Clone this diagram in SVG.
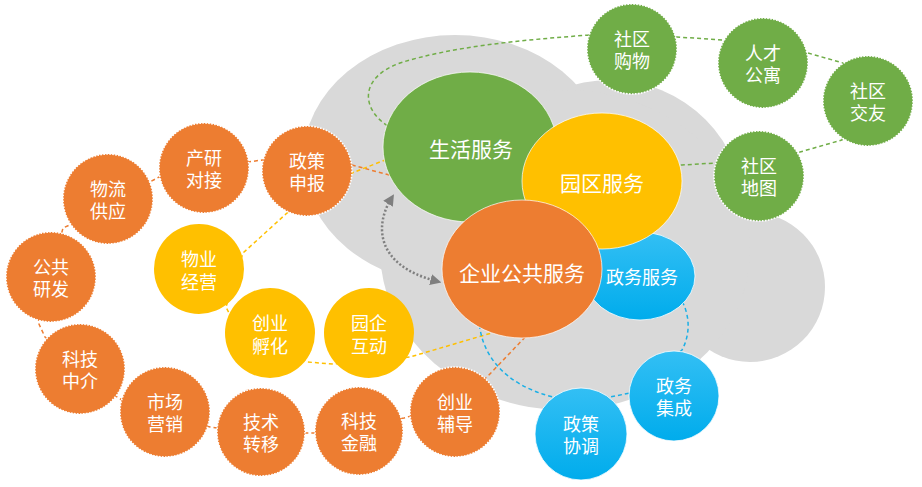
<svg xmlns="http://www.w3.org/2000/svg" width="922" height="487" viewBox="0 0 922 487">
<defs>
<style>
text{font-family:"Noto Sans CJK SC","Microsoft YaHei",sans-serif;fill:#fff;text-anchor:middle;dominant-baseline:central}
.big{font-size:21px}
.mid{font-size:18px}
.sm{font-size:18px}
.dot{stroke:#fff;stroke-width:1.6;stroke-dasharray:1.6 1.4}
.or{fill:#ed7d31}
.gr{fill:#70ad47}
.ye{fill:#ffc000}
.bl{fill:url(#blueg);stroke:#fff;stroke-width:1;stroke-opacity:.8}
.ln{fill:none;stroke-width:1.5;stroke-dasharray:4 3}
.edge{stroke:#fff;stroke-width:1;stroke-opacity:.7}
</style>
<linearGradient id="blueg" x1="0" y1="0" x2="0" y2="1">
<stop offset="0" stop-color="#33bff4"/>
<stop offset="1" stop-color="#00acec"/>
</linearGradient>
<marker id="arr" viewBox="0 0 10 10" refX="5" refY="5" markerWidth="4.5" markerHeight="4.5" orient="auto-start-reverse" markerUnits="strokeWidth">
<path d="M0,0 L10,5 L0,10 z" fill="#7f7f7f"/>
</marker>
</defs>

<g id="cloud" fill="#d9d9d9">
<ellipse cx="455" cy="160" rx="152" ry="125"/>
<circle cx="610" cy="215" r="135"/>
<circle cx="750" cy="287" r="75"/>
<ellipse cx="565" cy="250" rx="185" ry="160"/>
</g>

<g id="connectors">
<polyline class="ln" stroke="#ed7d31" points="430,186 352,165 262,160 248,162 159,177 150,182 72,224 63,228 38,322 45,337 117,397 122,400 210,427 217,428 305,433 315,433 404,418 411,416 487,377 530,332"/>
<polyline class="ln" stroke="#ffc000" points="420,150 385,160 352,173 287,213 243,253 226,307 229,313 307,362 333,364 410,357 495,332"/>
<path class="ln" stroke="#70ad47" d="M400,132 L388,126 C362,110 358,78 400,63 C450,47 520,40 590,35 L677,37 L723,40 L808,53 L843,63 L842,140 L800,152 L715,163 L682,165 L660,166"/>
<path class="ln" stroke="#1aafe6" d="M479,318 C480,355 505,385 553,397 L610,397 L630,393 L682,350 C690,335 690,318 683,303"/>
<path fill="none" stroke="#7f7f7f" stroke-width="2.5" stroke-dasharray="2 2" marker-start="url(#arr)" marker-end="url(#arr)" d="M391,199 C375,225 375,265 436,281"/>
</g>

<g id="n-shenghuo"><ellipse class="gr edge" cx="470" cy="147" rx="87" ry="75"/><text class="big" x="471" y="148">生活服务</text></g>
<g id="n-zhengwu"><ellipse class="bl" cx="640" cy="276" rx="55" ry="44"/><text class="mid" x="642" y="276">政务服务</text></g>
<g id="n-yuanqu"><ellipse class="ye edge" cx="602" cy="181" rx="80" ry="68"/><text class="big" x="602" y="182">园区服务</text></g>
<g id="n-qiye"><ellipse class="or edge" cx="522" cy="269" rx="80" ry="69"/><text class="big" x="522" y="272">企业公共服务</text></g>

<g id="n-zcsb"><circle class="or dot" cx="307" cy="171" r="45"/><text class="sm"><tspan x="307" y="160">政策</tspan><tspan x="307" y="182">申报</tspan></text></g>
<g id="n-cydj"><circle class="or dot" cx="204" cy="168" r="45"/><text class="sm"><tspan x="204" y="157">产研</tspan><tspan x="204" y="179">对接</tspan></text></g>
<g id="n-wlgy"><circle class="or dot" cx="108" cy="199" r="45"/><text class="sm"><tspan x="108" y="188">物流</tspan><tspan x="108" y="210">供应</tspan></text></g>
<g id="n-ggyf"><circle class="or dot" cx="51" cy="277" r="45"/><text class="sm"><tspan x="51" y="266">公共</tspan><tspan x="51" y="288">研发</tspan></text></g>
<g id="n-kjzj"><circle class="or dot" cx="80" cy="369" r="45"/><text class="sm"><tspan x="80" y="358">科技</tspan><tspan x="80" y="380">中介</tspan></text></g>
<g id="n-scyx"><circle class="or dot" cx="165" cy="412" r="45"/><text class="sm"><tspan x="165" y="401">市场</tspan><tspan x="165" y="423">营销</tspan></text></g>
<g id="n-jszy"><circle class="or dot" cx="261" cy="432" r="44"/><text class="sm"><tspan x="261" y="421">技术</tspan><tspan x="261" y="443">转移</tspan></text></g>
<g id="n-kjjr"><circle class="or dot" cx="359" cy="431" r="44"/><text class="sm"><tspan x="359" y="420">科技</tspan><tspan x="359" y="442">金融</tspan></text></g>
<g id="n-cyfd"><circle class="or dot" cx="455" cy="412" r="45"/><text class="sm"><tspan x="455" y="401">创业</tspan><tspan x="455" y="423">辅导</tspan></text></g>

<g id="n-wyjy"><circle class="ye" cx="199" cy="269" r="45"/><text class="sm"><tspan x="199" y="258">物业</tspan><tspan x="199" y="281">经营</tspan></text></g>
<g id="n-cyfh"><circle class="ye" cx="270" cy="333" r="45"/><text class="sm"><tspan x="270" y="322">创业</tspan><tspan x="270" y="345">孵化</tspan></text></g>
<g id="n-yqhd"><circle class="ye" cx="369" cy="333" r="45"/><text class="sm"><tspan x="369" y="322">园企</tspan><tspan x="369" y="345">互动</tspan></text></g>

<g id="n-sqgw"><circle class="gr dot" cx="632" cy="49" r="45"/><text class="sm"><tspan x="632" y="38">社区</tspan><tspan x="632" y="60">购物</tspan></text></g>
<g id="n-rcgy"><circle class="gr dot" cx="763" cy="63" r="45"/><text class="sm"><tspan x="763" y="52">人才</tspan><tspan x="763" y="74">公寓</tspan></text></g>
<g id="n-sqjy"><circle class="gr dot" cx="868" cy="101" r="45"/><text class="sm"><tspan x="868" y="90">社区</tspan><tspan x="868" y="112">交友</tspan></text></g>
<g id="n-sqdt"><circle class="gr dot" cx="759" cy="176" r="45"/><text class="sm"><tspan x="759" y="165">社区</tspan><tspan x="759" y="187">地图</tspan></text></g>

<g id="n-zcxt"><circle class="bl" cx="581" cy="434" r="46"/><text class="sm"><tspan x="581" y="423">政策</tspan><tspan x="581" y="445">协调</tspan></text></g>
<g id="n-zwjc"><circle class="bl" cx="674" cy="396" r="45"/><text class="sm"><tspan x="674" y="385">政务</tspan><tspan x="674" y="407">集成</tspan></text></g>
</svg>
